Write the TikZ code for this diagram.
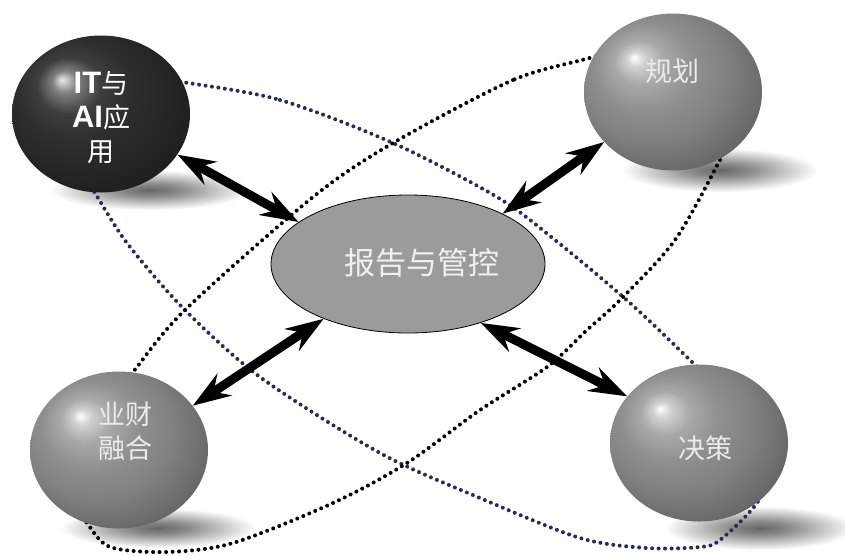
\documentclass[tikz,border=0pt]{standalone}
\usepackage{fontspec}
\newfontfamily\cjk{Noto Sans CJK SC}
\newfontfamily\heavy{Liberation Sans}
\usepackage{tikz}
\usetikzlibrary{arrows.meta,shapes.geometric}
\definecolor{ringblue}{RGB}{38,44,86}
\definecolor{reportgrey}{RGB}{155,155,155}
\pgfdeclareradialshading{greyball}{\pgfpoint{-11bp}{11bp}}{color(0bp)=(white); color(2.5bp)=(black!18); color(7bp)=(black!34); color(14bp)=(black!44); color(22bp)=(black!50); color(31bp)=(black!60); color(50bp)=(black!64)}
\pgfdeclareradialshading{darkball}{\pgfpoint{-11bp}{11bp}}{color(0bp)=(black!8); color(3.5bp)=(black!50); color(9bp)=(black!76); color(16bp)=(black!82); color(31bp)=(black!88); color(50bp)=(black!90)}
\pgfdeclareradialshading{shadowblur}{\pgfpoint{0bp}{0bp}}{color(0bp)=(black!60); color(8bp)=(black!45); color(25bp)=(white); color(50bp)=(white)}

\begin{document}
\begin{tikzpicture}[x=1pt,y=-1pt,
	ball/.style={ellipse,minimum width=178pt,minimum height=157pt,inner sep=0pt,shade,shading=greyball},
	balltext/.style={text=white,align=center,font=\cjk\fontsize{27}{34}\selectfont},
	dots/.style={line width=4pt,line cap=round,dash pattern=on 0pt off 6.5pt},
	twoway/.style={line width=9pt,arrows={Stealth[length=38pt,width=26pt,inset=13pt]-Stealth[length=38pt,width=26pt,inset=13pt]}}]
	\useasboundingbox[fill=white] (0,0) rectangle (845,555);
	\shade[shading=shadowblur] (150,190) ellipse (100pt and 20pt);
	\shade[shading=shadowblur] (720,170) ellipse (98pt and 22pt);
	\shade[shading=shadowblur] (760,528) ellipse (95pt and 22pt);
	\shade[shading=shadowblur] (158,528) ellipse (98pt and 20pt);
	\draw[dots,ringblue] plot[smooth cycle] coordinates {(182,82) (280,100) (393,143) (497,197) (555,240) (630,303) (693,363) (740,410) (775,460) (757,503) (720,540) (700,547) (647,548) (580,538) (480,498) (380,453) (260,377) (183,308) (127,243) (95,193) (78,165) (70,120) (95,85) (140,76)};
	\draw[dots,black] plot[smooth cycle] coordinates {(593,57) (513,80) (393,143) (313,197) (185,310) (133,372) (95,420) (72,470) (76,505) (87,523) (110,547) (167,552) (233,543) (333,503) (407,463) (480,410) (547,367) (587,330) (620,300) (675,240) (720,160) (745,110) (730,50) (660,35)};
	\node[ellipse,draw=black,line width=0.8pt,fill=reportgrey,minimum width=274pt,minimum height=138pt] (report) at (408,264) {};
	\node[text=white!94!black,font=\cjk\fontsize{31}{36}\selectfont] (reporttext) at (422,263) {报告与管控};
	\node[ball,shading=darkball] (it) at (101,114) {};
	\node[ball] (plan) at (673,92) {};
	\node[ball] (decide) at (699,443) {};
	\node[ball] (merge) at (119,450) {};
	\node[balltext] (ittext) at (101,118) {{\heavy\bfseries\fontsize{31}{34}\selectfont IT}与\\{\heavy\bfseries\fontsize{31}{34}\selectfont AI}应\\用};
	\node[balltext,text=white!92!black] (plantext) at (672,71) {规划};
	\node[balltext,text=white!92!black] (decidetext) at (705,448) {决策};
	\node[balltext,text=white!92!black] (mergetext) at (125,431) {业财\\融合};
	\draw[twoway] (it.-28) -- (report.159);
	\draw[twoway] (plan.216) -- (report.28);
	\draw[twoway] (merge.31) -- (report.213);
	\draw[twoway] (report.-39) -- (decide.147);
\end{tikzpicture}
\end{document}
